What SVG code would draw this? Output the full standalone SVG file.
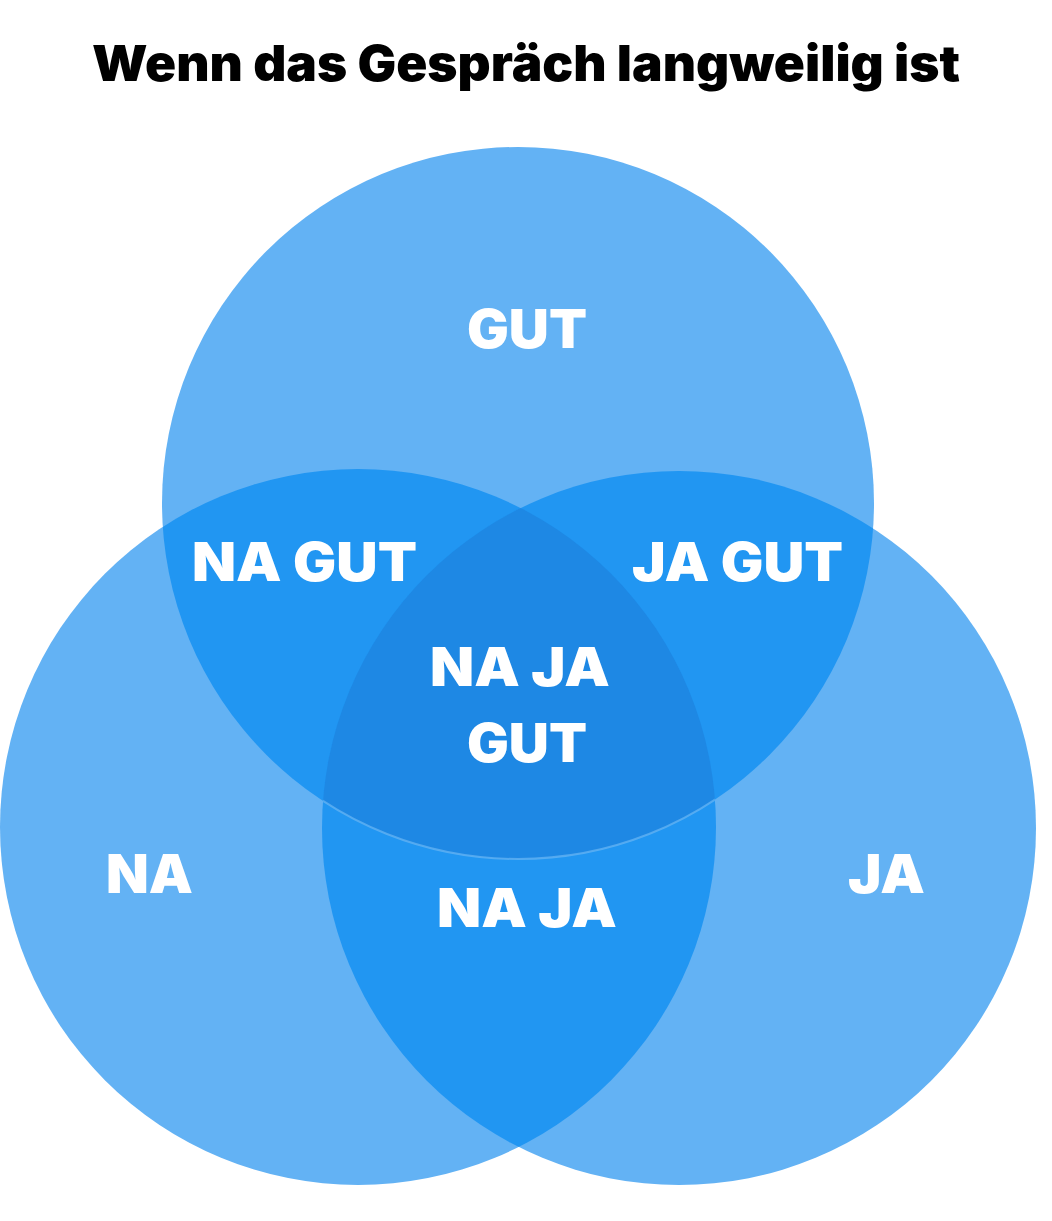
<svg xmlns="http://www.w3.org/2000/svg" width="1052" height="1221" viewBox="0 0 1052 1221">
  <style>
    .single { fill: #63B2F4; }
    .double { fill: #2196F2; }
    .triple { fill: #1E88E4; }
    .lbl { font-family: Inter, "Liberation Sans", sans-serif; font-weight: 900; font-size: 53px; fill: #FFFFFF; }
    .title { font-family: Inter, "Liberation Sans", sans-serif; font-weight: 900; font-size: 50px; fill: #000000; }
  </style>
  <defs>
    <clipPath id="clipA"><circle cx="518" cy="503" r="356"/></clipPath>
    <clipPath id="clipB"><circle cx="358" cy="827" r="358"/></clipPath>
    <clipPath id="clipC"><circle cx="679" cy="828" r="357"/></clipPath>
  </defs>
  <rect width="1052" height="1221" fill="#FFFFFF"/>
  <text class="title" x="92" y="81" textLength="868" lengthAdjust="spacingAndGlyphs">Wenn das Gespräch langweilig ist</text>

  <g id="circle-gut">
    <circle class="single" cx="518" cy="503" r="356"/>
  </g>
  <g id="circle-na">
    <circle class="single" cx="358" cy="827" r="358"/>
  </g>
  <g id="circle-ja">
    <circle class="single" cx="679" cy="828" r="357"/>
  </g>
  <g id="region-na-gut">
    <circle class="double" cx="358" cy="827" r="358" clip-path="url(#clipA)"/>
  </g>
  <g id="region-ja-gut">
    <circle class="double" cx="679" cy="828" r="357" clip-path="url(#clipA)"/>
  </g>
  <g id="region-na-ja">
    <circle class="double" cx="679" cy="828" r="357" clip-path="url(#clipB)"/>
  </g>
  <g id="region-na-ja-gut">
    <g clip-path="url(#clipA)">
      <circle class="triple" cx="679" cy="828" r="357" clip-path="url(#clipB)"/>
    </g>
    <g clip-path="url(#clipB)">
      <circle cx="518" cy="503" r="356" fill="none" stroke="#6BB6F4" stroke-width="2" stroke-opacity="0.7" clip-path="url(#clipC)"/>
    </g>
  </g>

  <g id="labels">
    <text class="lbl" x="467" y="348" textLength="120" lengthAdjust="spacingAndGlyphs">GUT</text>
    <text class="lbl" x="192" y="581" textLength="225" lengthAdjust="spacingAndGlyphs">NA GUT</text>
    <text class="lbl" x="632" y="581" textLength="211" lengthAdjust="spacingAndGlyphs">JA GUT</text>
    <text class="lbl" x="430" y="686" textLength="180" lengthAdjust="spacingAndGlyphs">NA JA</text>
    <text class="lbl" x="467" y="762" textLength="120" lengthAdjust="spacingAndGlyphs">GUT</text>
    <text class="lbl" x="106" y="893" textLength="87" lengthAdjust="spacingAndGlyphs">NA</text>
    <text class="lbl" x="437" y="927" textLength="180" lengthAdjust="spacingAndGlyphs">NA JA</text>
    <text class="lbl" x="848" y="893" textLength="77" lengthAdjust="spacingAndGlyphs">JA</text>
  </g>
</svg>
